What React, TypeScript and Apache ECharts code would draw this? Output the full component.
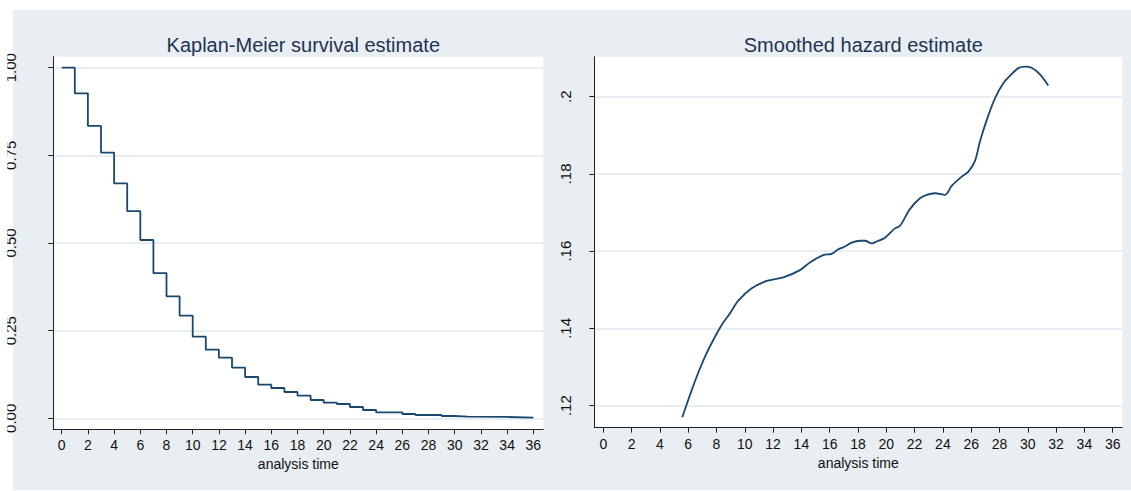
import { useEffect, useRef } from "react";
import * as echarts from "echarts";

// Kaplan-Meier survival estimate (value holds from each time until the next)
const kmTimes = [0, 1, 2, 3, 4, 5, 6, 7, 8, 9, 10, 11, 12, 13, 14, 15, 16, 17, 18, 19, 20, 21, 22, 23, 24, 26, 27, 29, 30, 31, 34, 36];
const kmSurvival = [1, 0.927, 0.834, 0.758, 0.67, 0.591, 0.5085, 0.414, 0.348, 0.2927, 0.2328, 0.1957, 0.1729, 0.1443, 0.1178, 0.0959, 0.0864, 0.075, 0.0645, 0.0522, 0.0445, 0.0408, 0.0322, 0.0237, 0.0171, 0.0123, 0.0094, 0.0066, 0.0047, 0.0038, 0.002, 0.002];

// Smoothed hazard estimate
const hazTimes = [5.58, 6.13, 6.6, 7.19, 7.77, 8.37, 8.95, 9.54, 10.49, 11.55, 12.72, 13.9, 14.6, 15.55, 16.14, 16.61, 17.08, 17.55, 18.14, 18.5, 18.97, 19.32, 19.91, 20.61, 20.97, 21.67, 22.38, 22.86, 23.44, 24.15, 24.62, 25.33, 25.8, 26.27, 26.62, 27.1, 27.68, 28.27, 28.74, 29.33, 29.8, 30.27, 30.86, 31.45];
const hazValues = [0.117, 0.1228, 0.1275, 0.1327, 0.137, 0.1409, 0.1439, 0.1472, 0.1504, 0.1523, 0.1532, 0.1551, 0.1571, 0.159, 0.1593, 0.1605, 0.1612, 0.1622, 0.1627, 0.1627, 0.162, 0.1625, 0.1635, 0.1659, 0.1666, 0.1709, 0.1737, 0.1746, 0.175, 0.1746, 0.1769, 0.1793, 0.1806, 0.1834, 0.1884, 0.194, 0.1996, 0.2035, 0.2054, 0.2074, 0.2078, 0.2075, 0.2058, 0.2029];

// Tick labels
const timeTicks = [0, 2, 4, 6, 8, 10, 12, 14, 16, 18, 20, 22, 24, 26, 28, 30, 32, 34, 36];
const survivalTicks = [0, 0.25, 0.5, 0.75, 1];
const hazardTicks = [0.12, 0.14, 0.16, 0.18, 0.2];

const titles = ["Kaplan-Meier survival estimate", "Smoothed hazard estimate"];
const xTitle = "analysis time";

const FONT = "'Liberation Sans', Arial, Helvetica, sans-serif";
const NAVY = "#1a476f";
const BG = "#e8eef1";
const GRIDLINE = "#e1e9ed";
const AXIS = "#222222";

export default function App() {
  const ref = useRef<HTMLDivElement>(null);

  useEffect(() => {
    if (!ref.current) return;
    const chart = echarts.init(ref.current, null, { renderer: "svg" });

    const xAxisBase = (gridIndex: number, min: number, max: number) => ({
      type: "value",
      gridIndex,
      min,
      max,
      name: xTitle,
      nameLocation: "middle",
      nameGap: 27,
      nameTextStyle: { fontFamily: FONT, fontSize: 14, color: "#111" },
      axisLine: { show: true, onZero: false, lineStyle: { color: AXIS, width: 1 } },
      axisTick: { show: true, length: 5, customValues: timeTicks, lineStyle: { color: AXIS, width: 1 } },
      axisLabel: { customValues: timeTicks, margin: 9, fontFamily: FONT, fontSize: 14, color: "#111" },
      splitLine: { show: false },
    });

    const yAxisBase = (gridIndex: number, min: number, max: number, ticks: number[], margin: number, fmt: (v: number) => string) => ({
      type: "value",
      gridIndex,
      min,
      max,
      axisLine: { show: true, onZero: false, lineStyle: { color: AXIS, width: 1 } },
      axisTick: { show: true, length: 5, customValues: ticks, lineStyle: { color: AXIS, width: 1 } },
      axisLabel: { customValues: ticks, rotate: 90, margin, fontFamily: FONT, fontSize: 15, color: "#111", formatter: fmt },
      splitLine: { show: true, lineStyle: { color: GRIDLINE, width: 1.5 } },
    });

    chart.setOption({
      animation: false,
      backgroundColor: "#ffffff",
      graphic: [
        { type: "rect", shape: { x: 13, y: 10, width: 1118, height: 480 }, style: { fill: BG }, z: -10, silent: true },
        { type: "rect", shape: { x: 0, y: 0, width: 7.3, height: 491 }, style: { fill: "#ffffff" }, z: 100, silent: true },
      ],
      title: [
        { text: titles[0], left: 298.3, top: 30, textAlign: "center", textStyle: { fontFamily: FONT, fontSize: 20, fontWeight: "normal", color: "#1f3354" } },
        { text: titles[1], left: 858.3, top: 30, textAlign: "center", textStyle: { fontFamily: FONT, fontSize: 20, fontWeight: "normal", color: "#1f3354" } },
      ],
      grid: [
        { left: 53.3, top: 56.7, width: 490, height: 372.6, show: true, backgroundColor: "#ffffff", borderWidth: 0 },
        { left: 594.3, top: 56.7, width: 528, height: 371, show: true, backgroundColor: "#ffffff", borderWidth: 0 },
      ],
      xAxis: [xAxisBase(0, -0.641, 36.76), xAxisBase(1, -0.636, 36.68)],
      yAxis: [
        yAxisBase(0, -0.0314, 1.0314, survivalTicks, 35.2, (v: number) => v.toFixed(2)),
        yAxisBase(1, 0.1143, 0.21036, hazardTicks, 21, (v: number) => String(+v.toFixed(2)).replace(/^0/, "")),
      ],
      series: [
        {
          type: "line",
          xAxisIndex: 0,
          yAxisIndex: 0,
          step: "end",
          symbol: "none",
          data: kmTimes.map((t, i) => [t, kmSurvival[i]]),
          lineStyle: { color: NAVY, width: 1.8 },
        },
        {
          type: "line",
          xAxisIndex: 1,
          yAxisIndex: 1,
          smooth: 0.3,
          symbol: "none",
          data: hazTimes.map((t, i) => [t, hazValues[i]]),
          lineStyle: { color: NAVY, width: 1.8 },
        },
      ],
    });

    return () => chart.dispose();
  }, []);

  return <div ref={ref} style={{ position: "fixed", left: 0, top: 0, width: 1131, height: 491 }} />;
}
